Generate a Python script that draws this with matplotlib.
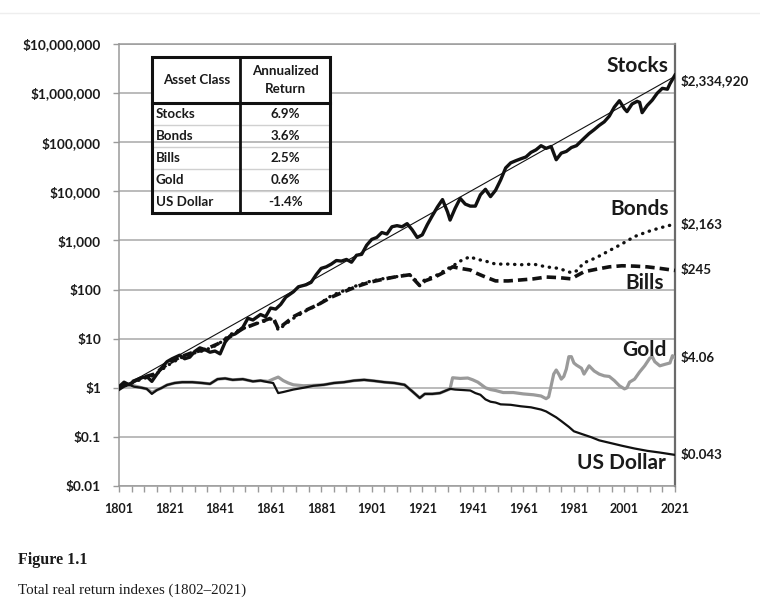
import matplotlib
matplotlib.use("Agg")
import matplotlib.pyplot as plt
from matplotlib.lines import Line2D
from matplotlib.patches import Rectangle
from matplotlib.ticker import FixedLocator, NullLocator

# ---- data ----
stock_years = [1801, 1803, 1805, 1807, 1810, 1812, 1814, 1816, 1818, 1820,
               1822, 1825, 1827, 1829, 1831, 1833, 1835, 1837, 1839, 1841,
               1843, 1845, 1847, 1850, 1852, 1854, 1857, 1859, 1861, 1863,
               1865, 1867, 1870, 1872, 1875, 1877, 1879, 1881, 1883, 1885,
               1887, 1889, 1891, 1893, 1895, 1897, 1899, 1901, 1903, 1905,
               1907, 1909, 1911, 1913, 1915, 1917, 1919, 1921, 1923, 1925,
               1927, 1929, 1931, 1932, 1934, 1936, 1938, 1940, 1942, 1944,
               1946, 1948, 1950, 1952, 1954, 1956, 1958, 1960, 1962, 1964,
               1966, 1968, 1970, 1972, 1974, 1976, 1978, 1980, 1982, 1985,
               1987, 1989, 1991, 1993, 1995, 1997, 1999, 2001, 2002, 2004,
               2006, 2007, 2008, 2010, 2012, 2014, 2016, 2018, 2019, 2020,
               2021]
stock_values = [1.05, 1.3, 1.15, 1.35, 1.6, 1.7, 1.35, 1.9, 2.6, 3.4,
                3.9, 4.6, 3.9, 4.2, 5.5, 6.5, 6.0, 5.3, 5.6, 4.9,
                8.5, 11.5, 12.5, 17, 26, 24, 31, 28, 42, 40,
                50, 70, 90, 114, 125, 140, 200, 270, 290, 330,
                390, 380, 410, 360, 500, 520, 800, 1050, 1150, 1450,
                1350, 1900, 2000, 1900, 2200, 1650, 1150, 1300, 2100, 3200,
                4800, 6800, 3800, 2600, 4500, 7200, 5500, 5000, 5000, 8500,
                11000, 7800, 10500, 17000, 30000, 38000, 42000, 46000, 50000, 62000,
                70000, 85000, 75000, 82000, 44000, 60000, 65000, 78000, 85000, 120000,
                150000, 180000, 220000, 260000, 340000, 520000, 700000, 480000, 420000, 600000,
                680000, 650000, 400000, 560000, 720000, 1000000, 1250000, 1200000, 1550000, 1900000,
                2334920]

trend_years = [1801, 2021]
trend_values = [0.95, 2.2e6]

bond_years = [1801, 1805, 1810, 1815, 1820, 1825, 1830, 1835, 1840, 1843,
              1846, 1850, 1855, 1860, 1862, 1864, 1867, 1870, 1875, 1880,
              1885, 1890, 1895, 1900, 1905, 1910, 1915, 1917, 1920, 1922,
              1925, 1928, 1930, 1933, 1936, 1940, 1942, 1946, 1950, 1955,
              1960, 1965, 1970, 1975, 1980, 1982, 1985, 1990, 1995, 2000,
              2005, 2010, 2015, 2021]
bond_values = [1.0, 1.2, 1.5, 1.8, 2.8, 4.0, 5.0, 5.8, 7.5, 10,
               13, 16, 20, 24, 26, 15, 20, 26, 37, 50,
               75, 95, 120, 145, 165, 180, 200, 190, 120, 160,
               180, 210, 250, 300, 380, 470, 420, 380, 330, 330,
               320, 330, 290, 270, 220, 240, 350, 450, 620, 850,
               1200, 1500, 1800, 2163]

bill_years = [1801, 1805, 1810, 1815, 1820, 1825, 1830, 1835, 1840, 1845,
              1850, 1855, 1860, 1862, 1864, 1867, 1870, 1875, 1880, 1885,
              1890, 1895, 1900, 1905, 1910, 1916, 1920, 1922, 1925, 1930,
              1933, 1936, 1940, 1942, 1946, 1950, 1955, 1960, 1965, 1970,
              1975, 1980, 1982, 1985, 1990, 1995, 2000, 2005, 2010, 2015,
              2021]
bill_values = [1.0, 1.25, 1.6, 1.9, 3.0, 4.2, 5.2, 6.0, 7.8, 11,
               16, 20, 25, 27, 16, 21, 28, 38, 50, 70,
               90, 115, 140, 160, 180, 200, 120, 150, 170, 230,
               290, 270, 250, 220, 180, 150, 150, 157, 165, 180,
               175, 165, 190, 230, 260, 290, 305, 300, 290, 270,
               245]

gold_years = [1801, 1803, 1805, 1807, 1810, 1812, 1814, 1816, 1818, 1820,
              1823, 1826, 1830, 1834, 1837, 1840, 1843, 1846, 1850, 1854,
              1857, 1860, 1862, 1864, 1866, 1868, 1870, 1874, 1878, 1882,
              1886, 1890, 1894, 1898, 1902, 1906, 1910, 1914, 1917, 1920,
              1922, 1925, 1928, 1932, 1933, 1936, 1939, 1941, 1943, 1946,
              1948, 1950, 1953, 1957, 1961, 1965, 1968, 1970, 1971, 1972,
              1973, 1974, 1975, 1976, 1977, 1978, 1979, 1980, 1981, 1982,
              1984, 1985, 1987, 1989, 1991, 1993, 1995, 1997, 1999, 2001,
              2002, 2003, 2005, 2007, 2009, 2011, 2012, 2013, 2015, 2017,
              2019, 2020, 2021]
gold_values = [1.0, 1.15, 1.2, 1.1, 1.0, 0.95, 0.8, 0.9, 1.0, 1.14,
               1.25, 1.3, 1.3, 1.25, 1.2, 1.5, 1.55, 1.45, 1.5, 1.35,
               1.4, 1.35, 1.5, 1.65, 1.4, 1.25, 1.15, 1.1, 1.12, 1.15,
               1.25, 1.3, 1.4, 1.45, 1.38, 1.3, 1.25, 1.15, 0.85, 0.62,
               0.75, 0.75, 0.78, 0.95, 1.6, 1.55, 1.58, 1.45, 1.3, 1.0,
               0.92, 0.88, 0.8, 0.8, 0.75, 0.72, 0.68, 0.6, 0.65, 1.1,
               1.9, 2.3, 1.9, 1.5, 1.7, 2.4, 4.3, 4.3, 3.2, 2.9,
               2.5, 1.9, 2.8, 2.2, 1.9, 1.75, 1.7, 1.4, 1.1, 0.95,
               1.0, 1.3, 1.5, 2.1, 2.8, 4.0, 4.3, 3.4, 2.8, 3.0,
               3.2, 4.5, 4.06]

dollar_years = [1801, 1803, 1805, 1807, 1810, 1812, 1814, 1816, 1818, 1820,
                1823, 1826, 1830, 1834, 1837, 1840, 1843, 1846, 1850, 1854,
                1857, 1860, 1862, 1864, 1866, 1870, 1874, 1878, 1882, 1886,
                1890, 1894, 1898, 1902, 1906, 1910, 1914, 1917, 1920, 1922,
                1925, 1928, 1932, 1934, 1937, 1940, 1942, 1944, 1946, 1948,
                1950, 1952, 1956, 1960, 1964, 1968, 1970, 1974, 1976, 1979,
                1981, 1984, 1988, 1991, 1995, 2000, 2005, 2010, 2015, 2021]
dollar_values = [0.90, 1.05, 1.15, 1.05, 1.0, 0.95, 0.75, 0.9, 1.0, 1.14,
                 1.25, 1.3, 1.3, 1.25, 1.2, 1.5, 1.55, 1.45, 1.5, 1.35,
                 1.4, 1.3, 1.25, 0.78, 0.82, 0.92, 1.0, 1.1, 1.15, 1.25,
                 1.3, 1.4, 1.45, 1.38, 1.3, 1.25, 1.15, 0.85, 0.62, 0.75,
                 0.75, 0.78, 0.95, 0.92, 0.9, 0.88, 0.78, 0.72, 0.58, 0.52,
                 0.50, 0.46, 0.45, 0.42, 0.40, 0.36, 0.33, 0.25, 0.21, 0.16,
                 0.13, 0.115, 0.098, 0.085, 0.076, 0.066, 0.058, 0.052, 0.048, 0.043]

end_labels = ["$2,334,920", "$2,163", "$245", "$4.06", "$0.043"]
end_values = [2334920, 2163, 245, 4.06, 0.043]

y_ticks = [0.01, 0.1, 1, 10, 100, 1e3, 1e4, 1e5, 1e6, 1e7]
y_tick_labels = ["$0.01", "$0.1", "$1", "$10", "$100", "$1,000", "$10,000",
                 "$100,000", "$1,000,000", "$10,000,000"]
x_ticks = list(range(1801, 2022, 20))

asset_classes = ["Stocks", "Bonds", "Bills", "Gold", "US Dollar"]
annualized = ["6.9%", "3.6%", "2.5%", "0.6%", "-1.4%"]

# ---- figure ----
plt.rcParams['font.family'] = ['Lato', 'DejaVu Sans']
TXT = '#1a1a1a'
GRID = '#a8a8a8'

fig = plt.figure(figsize=(7.6, 6.09), dpi=100)
ax = fig.add_axes([119 / 760, 123 / 609, 556 / 760, 442 / 609])

ax.plot(gold_years, gold_values, color='#9a9a9a', lw=2.3, zorder=3)
ax.plot(dollar_years, dollar_values, color='#111111', lw=1.6, zorder=4)
ax.plot(bill_years, bill_values, color='#111111', lw=2.6,
        linestyle=(0, (2.6, 1.4)), zorder=4)
ax.plot(bond_years, bond_values, color='#111111', lw=2.4,
        linestyle=(0, (0.1, 2.0)), dash_capstyle='round', zorder=4)
ax.plot(trend_years, trend_values, color='#111111', lw=0.8, zorder=5)
ax.plot(stock_years, stock_values, color='#111111', lw=2.4, zorder=6)

ax.set_yscale('log')
ax.set_ylim(0.01, 1e7)
ax.set_xlim(1801, 2021)
ax.yaxis.set_major_locator(FixedLocator(y_ticks))
ax.yaxis.set_minor_locator(NullLocator())
ax.set_yticklabels(y_tick_labels)
ax.set_xticks(x_ticks)
ax.xaxis.set_minor_locator(FixedLocator(list(range(1801, 2022, 5))))

ax.grid(axis='y', which='major', color=GRID, lw=1.1, zorder=1)
ax.set_axisbelow(True)
for side in ['left', 'top', 'bottom']:
    ax.spines[side].set_color('#9a9a9a')
    ax.spines[side].set_linewidth(1.1)
ax.spines['right'].set_color('#6a6a6a')
ax.spines['right'].set_linewidth(1.6)

ax.tick_params(axis='y', length=4, width=1, color='#9a9a9a', pad=9,
               labelsize=9.8, labelcolor=TXT)
ax.tick_params(axis='x', which='both', length=4, width=1, color='#9a9a9a',
               pad=8, labelsize=9, labelcolor=TXT)
for lab in ax.get_yticklabels() + ax.get_xticklabels():
    lab.set_fontweight('bold')

# series names
name_kw = dict(fontsize=15, fontweight='bold', color=TXT, ha='right',
               va='center', zorder=7)
ax.text(2018.5, 3.5e6, "Stocks", **name_kw)
ax.text(2018.5, 4400, "Bonds", **name_kw)
ax.text(2016.5, 136, "Bills", **name_kw)
ax.text(2017.5, 5.9, "Gold", **name_kw)
ax.text(2017.2, 0.0294, "US Dollar", **name_kw)

# end values
for lab, val in zip(end_labels, end_values):
    dy = -4 if val > 1e6 else 0
    ax.annotate(lab, xy=(2021, val), xytext=(4, dy), textcoords='offset points',
                ha='left', va='center', fontsize=9.6, fontweight='bold',
                color=TXT, annotation_clip=False)

# summary table
tx0, ty0, tw, th = 0.0594, 0.6176, 0.3205, 0.353
hdr_h, row_h = 46, 22
cells = [["Asset Class", "Annualized\nReturn"]] + [[a, r] for a, r in zip(asset_classes, annualized)]
tbl = ax.table(cellText=cells, bbox=[tx0, ty0, tw, th], cellLoc='center')
tbl.auto_set_font_size(False)
tbl.set_fontsize(9.6)
tbl.set_zorder(8)
for (r, c), cell in tbl.get_celld().items():
    cell.set_height(hdr_h if r == 0 else row_h)
    cell.set_facecolor('white')
    cell.get_text().set_fontweight('bold')
    cell.get_text().set_color(TXT)
    cell.get_text().set_linespacing(1.6)
    if r == 0:
        cell.set_linewidth(0)
    else:
        cell.visible_edges = 'B' if r < len(cells) - 1 else ''
        cell.set_edgecolor('#d0d0d0')
        cell.set_linewidth(1.0)
    if r > 0 and c == 0:
        cell.PAD = 0.04
        cell.get_text().set_ha('left')
        cell._loc = 'left'

hdr_y = ty0 + th * (1 - hdr_h / (hdr_h + 5 * row_h))
ax.add_patch(Rectangle((tx0, ty0), tw, th, transform=ax.transAxes, fill=False,
                       lw=2.2, ec='#111111', zorder=9, clip_on=False))
ax.add_line(Line2D([tx0, tx0 + tw], [hdr_y, hdr_y], transform=ax.transAxes,
                   lw=2.2, color='#111111', zorder=9))
ax.add_line(Line2D([tx0 + tw * 0.494, tx0 + tw * 0.494], [ty0, ty0 + th],
                   transform=ax.transAxes, lw=2.0, color='#111111', zorder=9))

# caption
fig.add_artist(Line2D([0, 1], [1 - 13 / 609, 1 - 13 / 609], color='#eeeeee', lw=1))
fig.text(18 / 760, 1 - 560 / 609, "Figure 1.1", family='Liberation Serif',
         fontweight='bold', fontsize=11.5, color=TXT, va='center', ha='left')
fig.text(18 / 760, 1 - 590 / 609, "Total real return indexes (1802\u20132021)",
         family='Liberation Serif', fontsize=10.8, color=TXT, va='center',
         ha='left')

fig.savefig("out.png", dpi=100)
